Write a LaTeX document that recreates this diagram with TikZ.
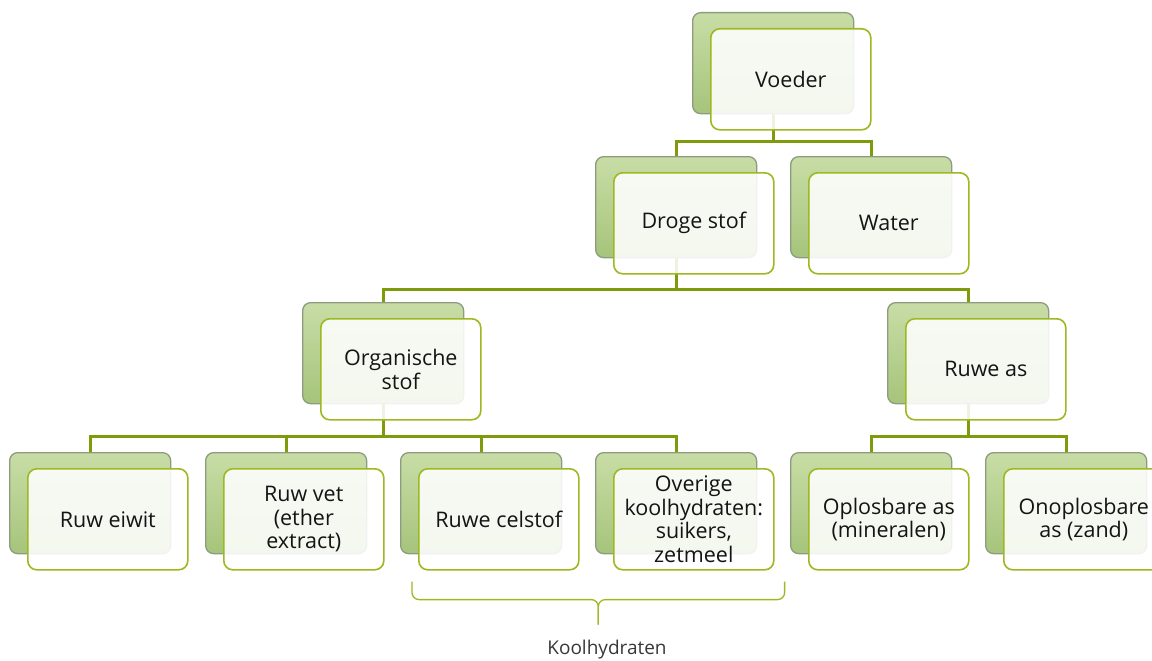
\documentclass[tikz,border=0pt]{standalone}
\usepackage{fontspec}
\setmainfont{Open Sans}
\usetikzlibrary{calc}
\definecolor{connc}{HTML}{7E9B0C}
\definecolor{frontc}{HTML}{9CB921}
\definecolor{backb}{HTML}{8D9C80}
\definecolor{backtop}{HTML}{C8DDA6}
\definecolor{backbot}{HTML}{A6C47B}
\definecolor{txt}{HTML}{141414}
\pgfdeclarelayer{back}
\pgfdeclarelayer{mid}
\pgfsetlayers{back,mid,main}
\newcommand\pairbox[4]{%
  \begin{pgfonlayer}{back}
    \node[backbox, anchor=north west] (#1B) at (#2,#3) {};
  \end{pgfonlayer}
  \node[frontbox, anchor=north west] (#1F) at ($(#1B.north west)+(18,16)$) {#4};
}
\begin{document}
\begin{tikzpicture}[x=1pt,y=-1pt,
  backbox/.style={draw=backb, line width=1.3pt, rounded corners=8pt, top color=backtop, bottom color=backbot, minimum width=161pt, minimum height=101pt, inner sep=0pt},
  frontbox/.style={draw=frontc, line width=1.6pt, rounded corners=9pt, fill=white, fill opacity=0.88, text opacity=1, text=txt, minimum width=160pt, minimum height=101pt, inner sep=0pt, align=center, font=\fontsize{21.5}{23.5}\selectfont},
  conn/.style={draw=connc, line width=3pt},
  bracestyle/.style={draw=frontc, line width=1.3pt, rounded corners=7pt}
]
\useasboundingbox (0,0) rectangle (1152,661);

\pairbox{v}{692}{12}{Voeder}
\pairbox{d}{595}{156}{Droge stof}
\pairbox{w}{790}{156}{Water}
\pairbox{o}{302}{302}{Organische\\stof}
\pairbox{r}{887}{302}{Ruwe as}
\pairbox{a}{9}{452}{Ruw eiwit}
\pairbox{b}{205}{452}{Ruw vet\\(ether\\extract)}
\pairbox{c}{400}{452}{Ruwe celstof}
\pairbox{e}{595}{452}{Overige\\koolhydraten:\\suikers,\\zetmeel}
\pairbox{f}{790}{452}{Oplosbare as\\(mineralen)}
\pairbox{g}{985}{452}{Onoplosbare\\as (zand)}

\begin{pgfonlayer}{mid}
  \draw[conn] (vB.south) -- ++(0,27) -| (dB.north);
  \draw[conn] (vB.south) ++(0,27) -| (wB.north);
  \draw[conn] (dB.south) -- ++(0,31) -| (oB.north);
  \draw[conn] (dB.south) ++(0,31) -| (rB.north);
  \draw[conn] (oB.south) -- ++(0,32) -| (aB.north);
  \draw[conn] (oB.south) ++(0,32) -| (bB.north);
  \draw[conn] (oB.south) ++(0,32) -| (cB.north);
  \draw[conn] (oB.south) ++(0,32) -| (eB.north);
  \draw[conn] (rB.south) -- ++(0,32) -| (fB.north);
  \draw[conn] (rB.south) ++(0,32) -| (gB.north);
\end{pgfonlayer}

\coordinate (bl) at ($(cF.south west)+(-6,11)$);
\coordinate (br) at ($(eF.south east)+(10,11)$);
\coordinate (bm) at ($(bl)!0.5!(br)$);
\draw[bracestyle] (bl) -- ($(bl)+(0,18)$) -- ($(bm)+(0,18)$) -- ($(bm)+(0,43)$);
\draw[bracestyle] (br) -- ($(br)+(0,18)$) -- ($(bm)+(0,18)$) -- ($(bm)+(0,43)$);
\node[text=txt!85, font=\fontsize{19}{22}\selectfont] (kool) at (607,650) {Koolhydraten};
\end{tikzpicture}
\end{document}
